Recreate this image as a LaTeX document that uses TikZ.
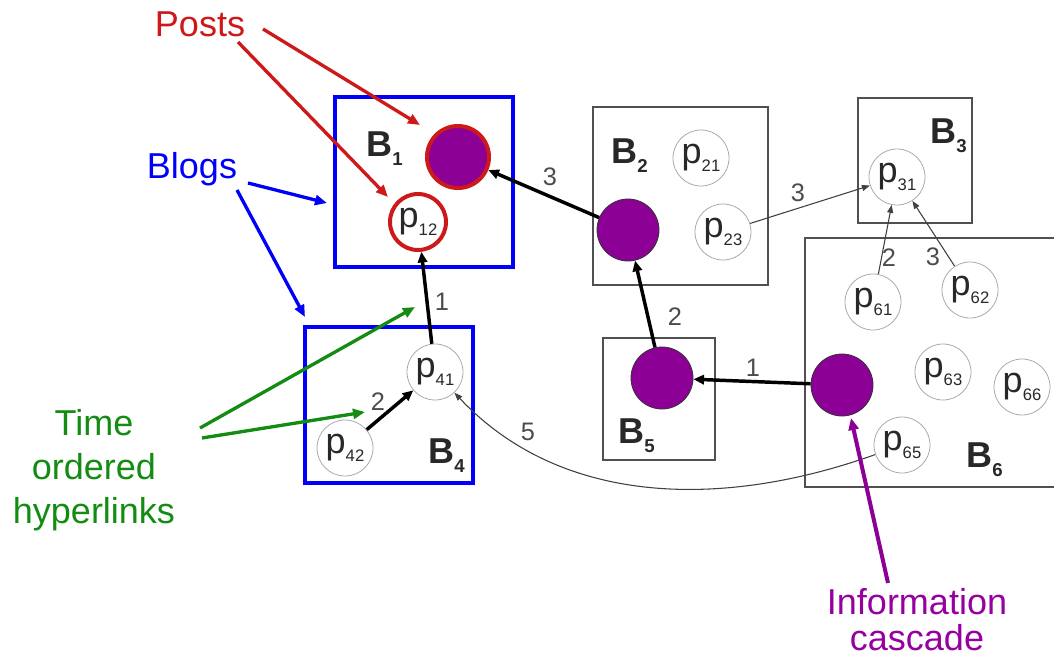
\documentclass[tikz,border=0pt]{standalone}
\usepackage{fontspec}
\setmainfont{Liberation Sans}
\usetikzlibrary{arrows.meta}
\definecolor{cpur}{RGB}{140,0,150}
\definecolor{cpurtxt}{RGB}{150,0,160}
\definecolor{cred}{RGB}{205,25,25}
\definecolor{cblue}{RGB}{0,0,250}
\definecolor{cgreen}{RGB}{20,140,20}
\definecolor{cbox}{RGB}{80,80,80}
\definecolor{ccirc}{RGB}{170,170,170}
\definecolor{ctext}{RGB}{40,40,40}
\newcommand{\pl}[1]{p\raisebox{-6pt}{\fontsize{12.5}{12.5}\selectfont #1}}
\newcommand{\bl}[1]{\textbf{B}\raisebox{-7pt}{\fontsize{14}{14}\selectfont\bfseries #1}}
\begin{document}
\begin{tikzpicture}[x=0.75pt,y=-0.75pt,
  post/.style={circle, draw=ccirc, line width=0.6pt, minimum size=42pt, inner sep=0pt,
    font=\fontsize{27}{27}\selectfont, text=ctext},
  ppost/.style={circle, draw=black!80, line width=0.6pt, fill=cpur, minimum size=46.5pt, inner sep=0pt},
  blogbox/.style={draw=cbox, line width=1.5pt},
  bluebox/.style={draw=cblue, line width=3pt},
  blabel/.style={anchor=base west, font=\fontsize{27}{27}\selectfont, text=ctext, inner sep=0pt},
  elabel/.style={font=\fontsize{19}{19}\selectfont, text=black!70, inner sep=0pt},
  thickarr/.style={line width=2.6pt, -{Triangle[length=8pt,width=7pt]}},
  thinarr/.style={line width=0.8pt, draw=black!75, -{Triangle[length=6pt,width=4.5pt]}},
  annot/.style={line width=2.5pt, -{Triangle[length=9pt,width=7.5pt]}},
  annotext/.style={font=\fontsize{27}{27}\selectfont, align=center, inner sep=0pt}
]
\useasboundingbox (0,0) rectangle (1054,665);

% blog boxes
\draw[bluebox] (335,97) rectangle (513,267);
\draw[blogbox] (593,107) rectangle (768,285);
\draw[blogbox] (858,98) rectangle (972,223);
\draw[bluebox] (305,327) rectangle (473,483);
\draw[blogbox] (603,338) rectangle (715,460);
\draw[blogbox] (1056,238) -- (805,238) -- (805,487) -- (1056,487);

% blog labels
\node[blabel] (lb1) at (366,156) {\bl{1}};
\node[blabel] (lb2) at (611,163) {\bl{2}};
\node[blabel] (lb3) at (930,143) {\bl{3}};
\node[blabel] (lb4) at (428,463) {\bl{4}};
\node[blabel] (lb5) at (618,443) {\bl{5}};
\node[blabel] (lb6) at (966,467) {\bl{6}};

% posts
\node[ppost, draw=cred, line width=3pt] (b1p) at (458,157) {};
\node[post, draw=cred, line width=3pt] (p12) at (418,222) {\pl{12}};
\node[ppost] (b2p) at (628,230) {};
\node[post] (p21) at (701,158) {\pl{21}};
\node[post] (p23) at (723,232) {\pl{23}};
\node[post] (p31) at (897,177) {\pl{31}};
\node[post] (p41) at (435,372) {\pl{41}};
\node[post] (p42) at (345,448) {\pl{42}};
\node[ppost] (b5p) at (662,378) {};
\node[ppost] (b6p) at (842,385) {};
\node[post] (p61) at (873,302) {\pl{61}};
\node[post] (p62) at (970,290) {\pl{62}};
\node[post] (p63) at (943,372) {\pl{63}};
\node[post] (p66) at (1022,387) {\pl{66}};
\node[post] (p65) at (902,445) {\pl{65}};

% hyperlinks
\draw[thickarr] (b2p) -- (b1p);
\draw[thickarr] (b5p) -- (b2p);
\draw[thickarr] (b6p) -- (b5p);
\draw[thickarr] (p41) -- (p12);
\draw[thickarr] (p42) -- (p41);
\draw[thinarr] (p23) -- (p31);
\draw[thinarr] (p61) -- (p31);
\draw[thinarr] (p62) -- (p31);
\draw[thinarr] (p65) .. controls (720,510) and (560,505) .. (p41);

% link labels
\node[elabel] (e1) at (550,177) {3};
\node[elabel] (e2) at (442,302) {1};
\node[elabel] (e3) at (378,402) {2};
\node[elabel] (e4) at (528,432) {5};
\node[elabel] (e5) at (675,317) {2};
\node[elabel] (e6) at (753,368) {1};
\node[elabel] (e7) at (798,193) {3};
\node[elabel] (e8) at (889,258) {2};
\node[elabel] (e9) at (933,257) {3};

% annotations
\node[annotext, text=cred, anchor=base] (posts) at (200,36) {Posts};
\node[annotext, text=cblue, anchor=base] (blogs) at (192,178) {Blogs};
\node[annotext, text=cgreen, font=\fontsize{27}{33}\selectfont] (time) at (94,470) {Time\\ordered\\hyperlinks};
\node[annotext, text=cpurtxt, font=\fontsize{27}{27}\selectfont] (info) at (917,620) {Information\\cascade};

\coordinate (r1s) at (263,29);  \coordinate (r1e) at (420,125);
\coordinate (r2s) at (238,42);  \coordinate (r2e) at (388,197);
\coordinate (u1s) at (248,183); \coordinate (u1e) at (327,203);
\coordinate (u2s) at (237,190); \coordinate (u2e) at (305,317);
\coordinate (g1s) at (200,428); \coordinate (g1e) at (415,307);
\coordinate (g2s) at (202,438); \coordinate (g2e) at (365,412);
\coordinate (m1s) at (888,583); \coordinate (m1e) at (851,418);

\draw[annot, draw=cred, fill=cred] (r1s) -- (r1e);
\draw[annot, draw=cred, fill=cred] (r2s) -- (r2e);
\draw[annot, draw=cblue, fill=cblue] (u1s) -- (u1e);
\draw[annot, draw=cblue, fill=cblue] (u2s) -- (u2e);
\draw[annot, draw=cgreen, fill=cgreen] (g1s) -- (g1e);
\draw[annot, draw=cgreen, fill=cgreen] (g2s) -- (g2e);
\draw[annot, draw=cpur, fill=cpur, line width=3pt] (m1s) -- (m1e);
\end{tikzpicture}
\end{document}
